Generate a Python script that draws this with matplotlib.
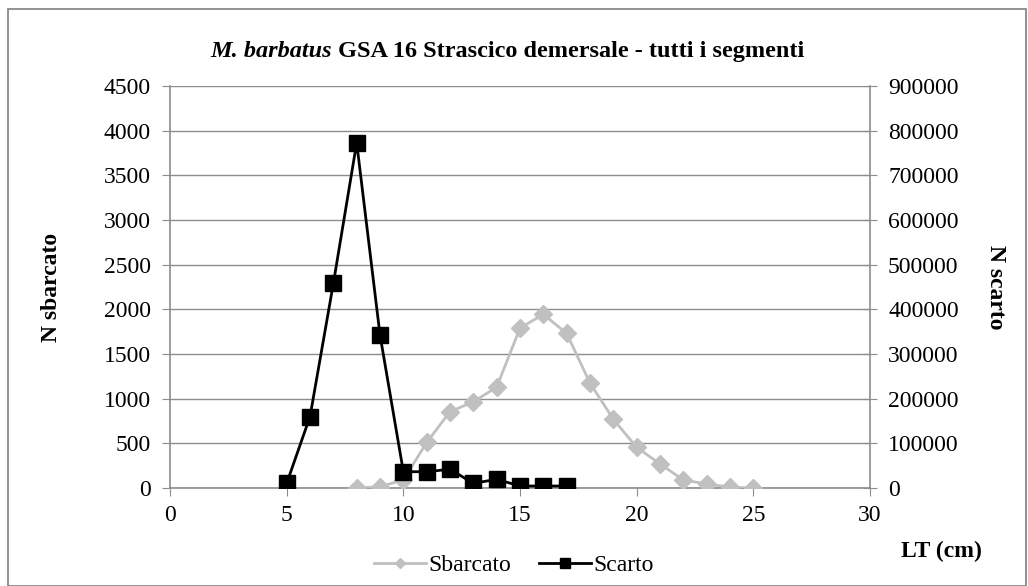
import matplotlib
matplotlib.use("Agg")
import matplotlib.pyplot as plt
from matplotlib.patches import Rectangle

# lunghezza totale (cm)
lt_sbarcato = [8, 9, 10, 11, 12, 13, 14, 15, 16, 17, 18, 19, 20, 21, 22, 23, 24, 25]
n_sbarcato = [0, 15, 90, 510, 855, 965, 1130, 1790, 1945, 1730, 1175, 770, 455, 270, 90, 45, 10, 0]

lt_scarto = [5, 6, 7, 8, 9, 10, 11, 12, 13, 14, 15, 16, 17]
n_scarto = [10500, 160000, 458000, 773000, 342500, 36500, 36500, 42000, 10500, 19500, 4500, 4500, 4500]

left_ticks = [0, 500, 1000, 1500, 2000, 2500, 3000, 3500, 4000, 4500]
right_ticks = [0, 100000, 200000, 300000, 400000, 500000, 600000, 700000, 800000, 900000]
x_ticks = [0, 5, 10, 15, 20, 25, 30]

GREY = "#c0c0c0"
AXIS = "#8c8c8c"
FONT = "Liberation Serif"
FS = 17

plt.rcParams["font.family"] = FONT

fig = plt.figure(figsize=(10.28, 5.86), dpi=100)
ax = fig.add_axes([0.1654, 0.1672, 0.6809, 0.686])
ax2 = ax.twinx()

# bordo esterno
fig.patches.append(Rectangle((0.008, 0.0), 0.99, 0.985, transform=fig.transFigure,
                             fill=False, edgecolor="#7f7f7f", linewidth=1.2))

l1, = ax.plot(lt_sbarcato, n_sbarcato, color=GREY, linewidth=2, marker="D",
              markersize=9, label="Sbarcato", zorder=3)
l2, = ax2.plot(lt_scarto, n_scarto, color="black", linewidth=2, marker="s",
               markersize=11, label="Scarto", zorder=4)

ax.set_xlim(0, 30)
ax.set_ylim(0, 4500)
ax2.set_ylim(0, 900000)
ax.set_xticks(x_ticks)
ax.set_yticks(left_ticks)
ax2.set_yticks(right_ticks)

ax.grid(axis="y", color=AXIS, linewidth=1)
ax.set_axisbelow(True)

for a in (ax, ax2):
    a.spines["top"].set_visible(False)
    for s in ("left", "right", "bottom"):
        a.spines[s].set_color(AXIS)
        a.spines[s].set_linewidth(1.2)
ax.spines["right"].set_visible(False)
ax2.spines["left"].set_visible(False)
ax2.spines["bottom"].set_visible(False)

ax.tick_params(axis="y", direction="out", length=6, color=AXIS, labelsize=FS, pad=8)
ax.tick_params(axis="x", direction="out", length=6, color=AXIS, labelsize=FS, pad=6)
ax2.tick_params(axis="y", direction="inout", length=10, color=AXIS, labelsize=FS, pad=8)

ax.set_ylabel("N sbarcato", fontsize=FS, fontweight="bold", labelpad=30)
ax2.set_ylabel("N scarto", fontsize=FS, fontweight="bold", rotation=-90, labelpad=34)

# titolo: parte in corsivo + resto
t1 = fig.text(0.205, 0.903, "M. barbatus", fontsize=17.5, fontweight="bold",
              fontstyle="italic", ha="left", va="baseline")
ax.annotate(" GSA 16 Strascico demersale - tutti i segmenti", xy=(1, 0),
            xycoords=t1, fontsize=17.5, fontweight="bold", ha="left", va="bottom",
            annotation_clip=False)

fig.text(0.876, 0.05, "LT (cm)", fontsize=FS, fontweight="bold", ha="left", va="baseline")

fig.legend(handles=[l1, l2], loc="lower center", bbox_to_anchor=(0.5, -0.02),
           ncol=2, frameon=False, fontsize=FS, handlelength=2.2,
           handletextpad=0.1, columnspacing=1.2, markerscale=0.6)

fig.savefig("out.png", dpi=100)
